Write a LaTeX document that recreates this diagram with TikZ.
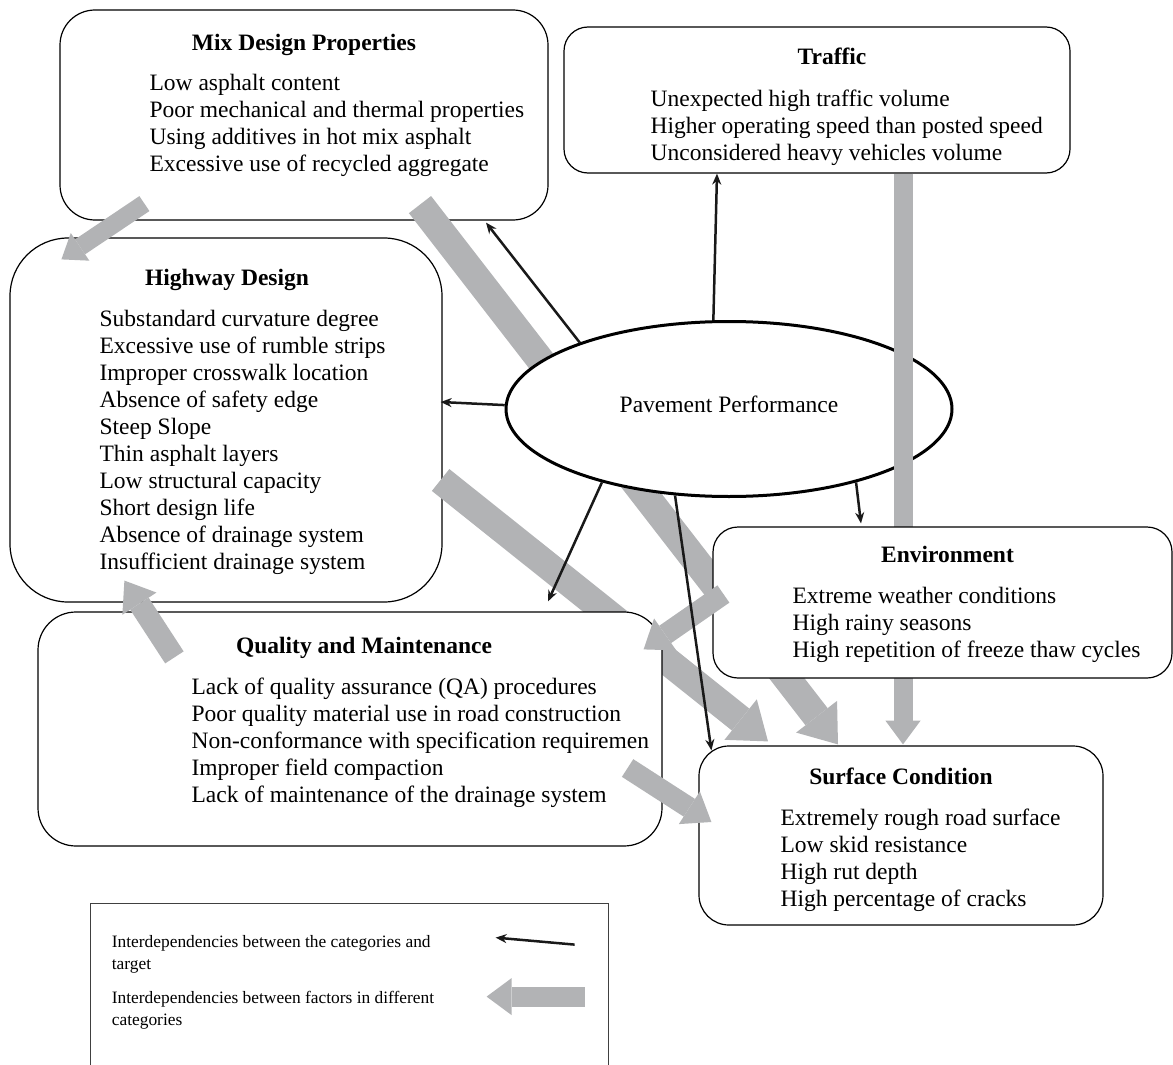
\documentclass[tikz,border=0pt]{standalone}
\usepackage{fontspec}
\setmainfont{Liberation Serif}
\usetikzlibrary{shapes.geometric,arrows.meta,positioning,calc}
\definecolor{bandgray}{RGB}{178,179,181}
\newcommand{\bodysize}{\fontsize{23.5}{27}\selectfont}
\newcommand{\keysize}{\fontsize{17.4}{22}\selectfont}
\tikzset{
  cat/.style={rectangle,rounded corners=#1,draw=black,fill=white,
    line width=1.2pt,inner sep=0pt},
  cattitle/.style={font=\bodysize\bfseries,inner sep=0pt,anchor=base},
  factors/.style={font=\bodysize,align=left,inner sep=0pt,anchor=north west},
  band/.style={draw=bandgray,line width=#1,
    -{Triangle[width=0pt 1.85,length=0pt 1.25,line width=0pt]}},
  link/.style={-{Stealth[length=11pt,width=9pt]},line width=2.5pt,draw=black!90},
}

\begin{document}
\begin{tikzpicture}[
  x=1pt,y=-1pt,
  keytext/.style={font=\keysize,align=left,inner sep=0pt,anchor=north west},
]
  \useasboundingbox (0,0) rectangle (1173,1065);

  \node[cat=35,minimum width=488pt,minimum height=210pt] (mix) at (304,115) {};
  \node[cattitle] (mixhead) at ($(mix.north)+(0,41)$) {Mix Design Properties};
  \node[factors] (mixlist) at ($(mix.north west)+(90,62)$) {%
    \strut Low asphalt content\\
    Poor mechanical and thermal properties\\
    Using additives in hot mix asphalt\\
    Excessive use of recycled aggregate};

  \node[cat=24,minimum width=506pt,minimum height=146pt] (traffic) at (817,100) {};
  \node[cattitle] (traffichead) at ($(traffic.north)+(15,38)$) {Traffic};
  \node[factors] (trafficlist) at ($(traffic.north west)+(87,61)$) {%
    \strut Unexpected high traffic volume\\
    Higher operating speed than posted speed\\
    Unconsidered heavy vehicles volume};

  \node[cat=58,minimum width=432pt,minimum height=364pt] (highway) at (226,420) {};
  \node[cattitle] (highwayhead) at ($(highway.north)+(1,48)$) {Highway Design};
  \node[factors] (highwaylist) at ($(highway.north west)+(90,70)$) {%
    \strut Substandard curvature degree\\
    Excessive use of rumble strips\\
    Improper crosswalk location\\
    Absence of safety edge\\
    Steep Slope\\
    Thin asphalt layers\\
    Low structural capacity\\
    Short design life\\
    Absence of drainage system\\
    Insufficient drainage system};

  \node[cat=30,minimum width=404pt,minimum height=179pt] (surface) at (901,835.5) {};
  \node[cattitle] (surfacehead) at ($(surface.north)+(0,39)$) {Surface Condition};
  \node[factors] (surfacelist) at ($(surface.north west)+(82,61)$) {%
    \strut Extremely rough road surface\\
    Low skid resistance\\
    High rut depth\\
    High percentage of cracks};

  \draw[band=28pt] ($(mix.south)+(116,-16)$) -- ($(surface.north)+(-63,-1)$);
  \draw[band=28pt] ($(highway.east)+(-2,60)$) -- ($(surface.north)+(-133,-4)$);

  \node[ellipse,draw=black,fill=white,line width=3pt,inner sep=0pt,
    minimum width=446pt,minimum height=175pt,font=\bodysize,text depth=10pt]
    (perf) at (729,409) {Pavement Performance};

  \draw[band=19pt] ($(traffic.south)+(86,0)$) -- ($(surface.north)+(2,-1)$);

  \node[cat=38,minimum width=624pt,minimum height=234pt] (quality) at (350,729) {};
  \node[cattitle] (qualityhead) at ($(quality.north)+(14,42)$) {Quality and Maintenance};
  \node[factors] (qualitylist) at ($(quality.north west)+(154,64)$) {%
    \strut Lack of quality assurance (QA) procedures\\
    Poor quality material use in road construction\\
    Non-conformance with specification requiremen\\
    Improper field compaction\\
    Lack of maintenance of the drainage system};

  \node[cat=25,minimum width=459pt,minimum height=151pt] (env) at (942.5,602.5) {};
  \node[cattitle] (envhead) at ($(env.north)+(5,36)$) {Environment};
  \node[factors] (envlist) at ($(env.north west)+(80,58)$) {%
    \strut Extreme weather conditions\\
    High rainy seasons\\
    High repetition of freeze thaw cycles};

  \draw[band=18pt] ($(mix.south west)+(85,-17)$) -- ($(highway.north west)+(52,22)$);
  \draw[band=21pt] ($(env.west)+(11,-8.5)$) -- ($(quality.north east)+(-19,38)$);
  \draw[band=22pt] ($(quality.north west)+(137,46)$) -- ($(highway.south west)+(115,-22)$);
  \draw[band=21pt] ($(quality.east)+(-35,39)$) -- ($(surface.west)+(13,-13.5)$);

  \draw[link] (perf.156) -- ($(mix.south)+(182,2)$);
  \draw[link] (perf.100) -- ($(traffic.south)+(-100,0)$);
  \draw[link] (perf.179) -- ($(highway.east)+(-2,-18)$);
  \draw[link] (perf.210) -- ($(quality.north)+(198,-10)$);
  \draw[link] (perf.238) -- ($(surface.north west)+(13,5)$);
  \draw[link] (perf.330) -- ($(env.north)+(-81.5,-3)$);

  \node[rectangle,draw=black!75,line width=0.8pt,inner sep=0pt,
    minimum width=518pt,minimum height=166pt] (key) at (349,986) {};
  \node[keytext] (keylink) at ($(key.north west)+(22,29.6)$) {%
    \strut Interdependencies between the categories and\\target};
  \node[keytext] (keyband) at ($(key.north west)+(22,85.6)$) {%
    \strut Interdependencies between factors in different\\categories};
  \coordinate (linkfrom) at ($(key.north west)+(485,42)$);
  \coordinate (linkto) at ($(key.north west)+(406,35)$);
  \coordinate (bandfrom) at ($(key.north west)+(495,94)$);
  \coordinate (bandto) at ($(key.north west)+(397,94)$);
  \draw[link] (linkfrom) -- (linkto);
  \draw[band=20pt] (bandfrom) -- (bandto);
\end{tikzpicture}
\end{document}
